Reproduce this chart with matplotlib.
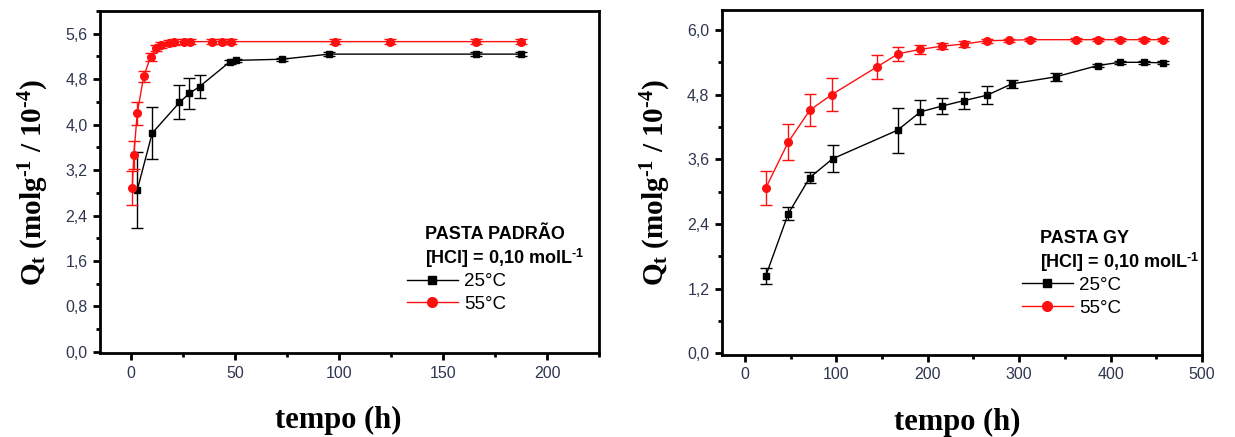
import matplotlib.pyplot as plt
import numpy as np
from matplotlib.ticker import MultipleLocator, FuncFormatter
from matplotlib.lines import Line2D

plt.rcParams.update({
    "font.family": "Liberation Sans",
    "mathtext.fontset": "custom",
    "mathtext.rm": "Liberation Serif:bold",
    "mathtext.sf": "Liberation Sans:bold",
    "mathtext.it": "Liberation Serif:bold",
    "mathtext.bf": "Liberation Serif:bold",
})

# PASTA PADRAO
t_pad_25 = [2.9, 10.1, 23.2, 28.0, 32.9, 47.3, 50.3, 72.4, 95.2, 165.9, 187.7]
q_pad_25 = [2.85, 3.85, 4.39, 4.55, 4.67, 5.10, 5.13, 5.15, 5.24, 5.24, 5.24]
e_pad_25 = [0.67, 0.46, 0.30, 0.27, 0.20, 0.03, 0.03, 0.03, 0.03, 0.03, 0.03]

t_pad_55 = [0.5, 1.25, 2.9, 6.0, 9.3, 12.1, 14.5, 18.0, 20.4, 25.2, 28.4,
            38.8, 43.6, 48.1, 98.0, 124.3, 165.9, 187.7]
q_pad_55 = [2.89, 3.47, 4.20, 4.85, 5.19, 5.35, 5.40, 5.43, 5.45, 5.46, 5.46,
            5.46, 5.46, 5.46, 5.46, 5.46, 5.46, 5.46]
e_pad_55 = [0.30, 0.25, 0.20, 0.10, 0.07, 0.05, 0.05, 0.05, 0.05, 0.05, 0.05,
            0.05, 0.05, 0.05, 0.05, 0.05, 0.05, 0.05]

# PASTA GY
t_gy_25 = [23, 47.5, 71, 96, 167, 192, 216, 240, 265, 292, 340, 386, 410, 436, 457]
q_gy_25 = [1.44, 2.59, 3.26, 3.61, 4.14, 4.48, 4.59, 4.69, 4.79, 5.00, 5.13,
           5.34, 5.40, 5.40, 5.39]
e_gy_25 = [0.15, 0.12, 0.10, 0.25, 0.42, 0.22, 0.15, 0.15, 0.17, 0.07, 0.08,
           0.03, 0.03, 0.03, 0.03]

t_gy_55 = [23, 47.5, 71, 95, 144, 168, 192, 216, 240, 265, 289, 312, 362, 386,
           410, 436, 457]
q_gy_55 = [3.07, 3.92, 4.51, 4.80, 5.31, 5.56, 5.64, 5.70, 5.74, 5.80, 5.81,
           5.82, 5.82, 5.82, 5.82, 5.82, 5.82]
e_gy_55 = [0.32, 0.33, 0.30, 0.30, 0.22, 0.13, 0.08, 0.06, 0.05, 0.04, 0.03,
           0.03, 0.03, 0.03, 0.03, 0.03, 0.03]

tick_color = "#2e3650"
vermelho = "#ff1010"
virgula = FuncFormatter(lambda v, p: f"{v:.1f}".replace(".", ","))

fig = plt.figure(figsize=(12.35, 4.37), dpi=100)
ax1 = fig.add_axes([0.081, 0.192, 0.404, 0.783])
ax2 = fig.add_axes([0.5846, 0.188, 0.3887, 0.789])


def desenha(ax, t25, q25, e25, t55, q55, e55):
    ax.errorbar(t25, q25, yerr=e25, color="black", ecolor="black", lw=1, elinewidth=1,
                capsize=4, capthick=1, marker="s", ms=5, mec="black", mfc="black", zorder=3)
    ax.errorbar(t55, q55, yerr=e55, color=vermelho, ecolor=vermelho, lw=1, elinewidth=1,
                capsize=4, capthick=1, marker="o", ms=5.5, mec=vermelho, mfc=vermelho, zorder=4)
    for s in ax.spines.values():
        s.set_linewidth(2)
    ax.tick_params(which="major", direction="out", length=5, width=2, colors="black",
                   labelcolor=tick_color, labelsize=11.5, pad=4)
    ax.tick_params(which="minor", direction="out", length=3, width=2, colors="black")
    ax.yaxis.set_major_formatter(virgula)
    ax.set_xlabel("tempo (h)", family="Liberation Serif", fontweight="bold", fontsize=22, labelpad=14)
    ax.set_ylabel(r"Q$_\mathrm{t}$ (molg$^\mathrm{‐1}$ / 10$^\mathrm{‐4}$)",
                  family="Liberation Serif", fontweight="bold", fontsize=21, labelpad=10)
    handles = [Line2D([], [], color="black", lw=1, marker="s", ms=6),
               Line2D([], [], color=vermelho, lw=1, marker="o", ms=7)]
    return handles


h = desenha(ax1, t_pad_25, q_pad_25, e_pad_25, t_pad_55, q_pad_55, e_pad_55)
ax1.set_xlim(-15, 225)
ax1.set_ylim(-0.02, 6.0)
ax1.xaxis.set_major_locator(MultipleLocator(50))
ax1.xaxis.set_minor_locator(MultipleLocator(25))
ax1.yaxis.set_major_locator(MultipleLocator(0.8))
ax1.yaxis.set_minor_locator(MultipleLocator(0.4))
ax1.xaxis.set_label_coords(0.477, -0.155)
ax1.text(0.651, 0.333, "PASTA PADRÃO", transform=ax1.transAxes, fontsize=13, fontweight="bold")
ax1.text(0.651, 0.259, r"[HCl] = 0,10 molL$^\mathsf{‐1}$", transform=ax1.transAxes,
         fontsize=13, fontweight="bold")
ax1.legend(h, ["25°C", "55°C"], loc="upper left", bbox_to_anchor=(0.615, 0.234), frameon=False,
           fontsize=13.5, handlelength=2.7, handletextpad=0.35, borderpad=0, borderaxespad=0,
           labelspacing=0.3)

h = desenha(ax2, t_gy_25, q_gy_25, e_gy_25, t_gy_55, q_gy_55, e_gy_55)
ax2.set_xlim(-25, 500)
ax2.set_ylim(-0.03, 6.37)
ax2.xaxis.set_major_locator(MultipleLocator(100))
ax2.xaxis.set_minor_locator(MultipleLocator(50))
ax2.yaxis.set_major_locator(MultipleLocator(1.2))
ax2.yaxis.set_minor_locator(MultipleLocator(0.6))
ax2.xaxis.set_label_coords(0.491, -0.155)
ax2.text(0.6625, 0.325, "PASTA GY", transform=ax2.transAxes, fontsize=13, fontweight="bold")
ax2.text(0.6625, 0.252, r"[HCl] = 0,10 molL$^\mathsf{‐1}$", transform=ax2.transAxes,
         fontsize=13, fontweight="bold")
ax2.legend(h, ["25°C", "55°C"], loc="upper left", bbox_to_anchor=(0.625, 0.226), frameon=False,
           fontsize=13.5, handlelength=2.7, handletextpad=0.35, borderpad=0, borderaxespad=0,
           labelspacing=0.3)

plt.savefig("out.png", dpi=100)
